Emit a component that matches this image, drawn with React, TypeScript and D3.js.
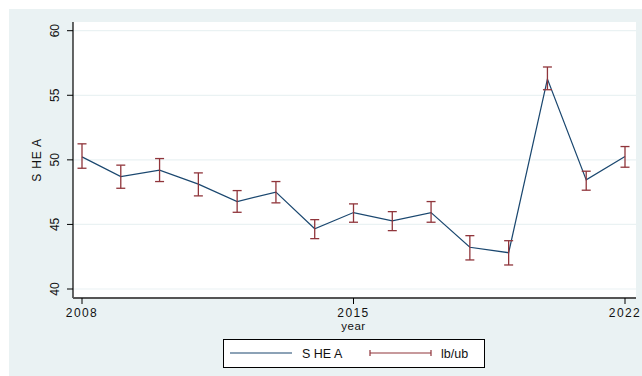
import React from "react";
import * as d3 from "d3";

// SHEA by year with lower/upper bounds
const years = [2008, 2009, 2010, 2011, 2012, 2013, 2014, 2015, 2016, 2017, 2018, 2019, 2020, 2021, 2022];
const shea = [50.23, 48.7, 49.2, 48.12, 46.77, 47.5, 44.67, 45.92, 45.27, 45.92, 43.23, 42.81, 56.26, 48.45, 50.26];
const lb = [49.35, 47.8, 48.32, 47.21, 45.94, 46.67, 43.9, 45.17, 44.52, 45.17, 42.25, 41.86, 55.43, 47.65, 49.43];
const ub = [51.24, 49.59, 50.1, 48.99, 47.62, 48.32, 45.37, 46.59, 45.99, 46.77, 44.13, 43.74, 57.19, 49.12, 51.03];
const yTicks = [40, 45, 50, 55, 60];
const xTicks = [2008, 2015, 2022];

const W = 642;
const H = 376;
const plot = { left: 73, right: 636, top: 22, bottom: 298 };
const navy = "#1a476f";
const maroon = "#90353b";
const bg = "#eaf2f3";
const font = "'Liberation Sans', Arial, sans-serif";

export default function App() {
  const x = d3.scaleLinear().domain([2008, 2022]).range([82, 625]);
  const y = d3.scaleLinear().domain([40, 60]).range([289, 30.7]);
  const line = d3
    .line<number>()
    .x((_, i) => x(years[i]))
    .y((d) => y(d));
  const cap = 4.5;

  return (
    <svg
      width={W}
      height={H}
      style={{ position: "absolute", left: 0, top: 0 }}
      fontFamily={font}
    >
      <rect x={0} y={0} width={W} height={H} fill="#ffffff" />
      <rect x={9} y={9} width={W - 9} height={H - 9} fill={bg} />
      <rect
        x={plot.left}
        y={plot.top}
        width={plot.right - plot.left}
        height={plot.bottom - plot.top}
        fill="#ffffff"
      />
      {/* grid */}
      {yTicks.map((t) => (
        <line
          key={"g" + t}
          x1={plot.left}
          x2={plot.right}
          y1={y(t)}
          y2={y(t)}
          stroke={bg}
          strokeWidth={1.2}
        />
      ))}
      {/* axes */}
      <line x1={plot.left} x2={plot.left} y1={plot.top} y2={plot.bottom} stroke="#000" strokeWidth={1.2} />
      <line x1={plot.left} x2={plot.right} y1={plot.bottom} y2={plot.bottom} stroke="#555" strokeWidth={2} />
      {yTicks.map((t) => (
        <g key={"y" + t}>
          <line x1={plot.left - 6} x2={plot.left} y1={y(t)} y2={y(t)} stroke="#000" strokeWidth={1} />
          <text
            transform={`translate(59,${y(t)}) rotate(-90)`}
            textAnchor="middle"
            fontSize={12}
            fill="#111"
          >
            {t}
          </text>
        </g>
      ))}
      {xTicks.map((t) => (
        <g key={"x" + t}>
          <line x1={x(t)} x2={x(t)} y1={plot.bottom} y2={plot.bottom + 6} stroke="#000" strokeWidth={1} />
          <text x={x(t)} y={317} textAnchor="middle" fontSize={12} letterSpacing={1.4} fill="#111">
            {t}
          </text>
        </g>
      ))}
      <text x={x(2015)} y={329.5} textAnchor="middle" fontSize={11.5} letterSpacing={0.5} fill="#111">
        year
      </text>
      <text
        transform={`translate(41,${(plot.top + plot.bottom) / 2}) rotate(-90)`}
        textAnchor="middle"
        fontSize={12}
        letterSpacing={0.8}
        fill="#111"
      >
        S HE A
      </text>

      {/* series line */}
      <path d={line(shea) ?? ""} fill="none" stroke={navy} strokeWidth={1.2} />

      {/* error bars */}
      {years.map((yr, i) => (
        <g key={"e" + yr} stroke={maroon} strokeWidth={1.3}>
          <line x1={x(yr)} x2={x(yr)} y1={y(lb[i])} y2={y(ub[i])} />
          <line x1={x(yr) - cap} x2={x(yr) + cap} y1={y(lb[i])} y2={y(lb[i])} />
          <line x1={x(yr) - cap} x2={x(yr) + cap} y1={y(ub[i])} y2={y(ub[i])} />
        </g>
      ))}

      {/* legend */}
      <rect x={223.5} y={339.5} width={261} height={28} fill="#ffffff" stroke="#000" strokeWidth={1} />
      <line x1={230} x2={292} y1={353} y2={353} stroke={navy} strokeWidth={1.2} />
      <text x={302} y={357.5} fontSize={12.5} fill="#111">
        S HE A
      </text>
      <g stroke={maroon} strokeWidth={1.2}>
        <line x1={370} x2={431} y1={353} y2={353} />
        <line x1={370} x2={370} y1={350} y2={356} />
        <line x1={431} x2={431} y1={350} y2={356} />
      </g>
      <text x={441} y={357.5} fontSize={12.5} fill="#111">
        lb/ub
      </text>
    </svg>
  );
}
